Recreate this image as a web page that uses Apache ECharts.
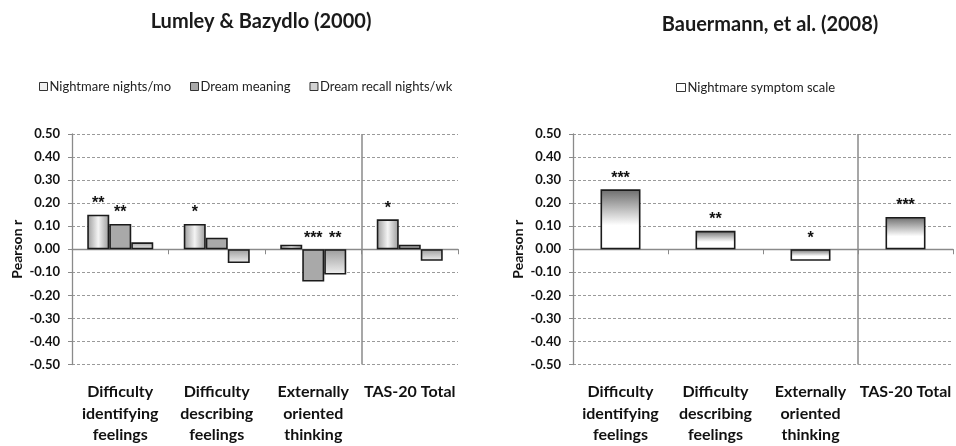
<!DOCTYPE html>
<html>
<head>
<meta charset="utf-8">
<script src="https://cdn.jsdelivr.net/npm/echarts@6/dist/echarts.min.js"></script>
<style>
  html, body { margin: 0; padding: 0; background: #fff; }
  #chart { width: 956px; height: 446px; }
</style>
</head>
<body>
<div id="chart"></div>
<script>
// TAS-20 subscales shown on both panels
const categories = [
  'Difficulty\nidentifying\nfeelings',
  'Difficulty\ndescribing\nfeelings',
  'Externally\noriented\nthinking',
  'TAS-20 Total'
];

// Lumley & Bazydlo (2000)
const lumleyNames = ['Nightmare nights/mo', 'Dream meaning', 'Dream recall nights/wk'];
const nightmareNights = [0.15, 0.11, 0.02, 0.13];
const dreamMeaning = [0.11, 0.05, -0.14, 0.02];
const dreamRecall = [0.03, -0.06, -0.11, -0.05];
const nightmareNightsSig = ['**', '*', '', '*'];
const dreamMeaningSig = ['**', '', '***', ''];
const dreamRecallSig = ['', '', '**', ''];

// Bauermann, et al. (2008)
const bauermannName = 'Nightmare symptom scale';
const nightmareScale = [0.26, 0.08, -0.05, 0.14];
const nightmareScaleSig = ['***', '**', '*', '***'];

// y axis range
const yMin = -0.5, yMax = 0.5, yStep = 0.1;
// the total score sits after the three subscales
const subscaleCount = 3;

const FONT = 'Lato';
const grad = echarts.graphic.LinearGradient;

const fills = {
  nightmare: new grad(0, 0, 1, 0, [
    { offset: 0, color: '#9a9a9a' },
    { offset: 0.5, color: '#f4f4f4' },
    { offset: 1, color: '#9a9a9a' }
  ]),
  meaning: '#a9a9a9',
  recall: new grad(0, 0, 0, 1, [
    { offset: 0, color: '#9c9c9c' },
    { offset: 1, color: '#f0f0f0' }
  ]),
  scale: new grad(0, 0, 0, 1, [
    { offset: 0, color: '#6c6c6c' },
    { offset: 0.6, color: '#ffffff' },
    { offset: 1, color: '#ffffff' }
  ])
};

function fmt(v) {
  return Math.abs(v) < 1e-9 ? '0.00' : v.toFixed(2);
}

function yAxisFor(gridIndex) {
  return {
    type: 'value', gridIndex: gridIndex,
    min: yMin, max: yMax, interval: yStep,
    name: 'Pearson r', nameLocation: 'middle', nameGap: 48, nameRotate: 90,
    nameTextStyle: { fontFamily: FONT, fontWeight: 'bold', fontSize: 14, color: '#111' },
    axisLine: { show: true, lineStyle: { color: '#8a8a8a', width: 1.3 } },
    axisTick: { show: true, length: 4, lineStyle: { color: '#8a8a8a' } },
    axisLabel: { formatter: fmt, margin: 12, fontFamily: FONT, fontWeight: 'bold', fontSize: 13, color: '#111' },
    splitLine: { show: true, lineStyle: { color: '#9a9a9a', width: 1, type: [3, 2] } }
  };
}

function zeroAxisFor(gridIndex) {
  return {
    type: 'category', gridIndex: gridIndex, data: categories,
    axisLine: { onZero: true, lineStyle: { color: '#8a8a8a', width: 1.3 } },
    axisTick: { show: true, length: 5, inside: false, lineStyle: { color: '#8a8a8a' } },
    axisLabel: { show: false },
    splitLine: { show: false }
  };
}

function labelAxisFor(gridIndex) {
  return {
    type: 'category', gridIndex: gridIndex, data: categories, position: 'bottom',
    axisLine: { show: false, onZero: false },
    axisTick: { show: false },
    axisLabel: {
      interval: 0, margin: 17, fontFamily: FONT, fontWeight: 'bold',
      fontSize: 16, lineHeight: 21.5, color: '#111', align: 'center'
    },
    splitLine: { show: false }
  };
}

// hidden band-count axis whose one interior split line divides subscales from the total
function dividerAxisFor(gridIndex) {
  return {
    type: 'value', gridIndex: gridIndex, position: 'top',
    min: 0, max: categories.length, interval: subscaleCount,
    axisLine: { show: false }, axisTick: { show: false }, axisLabel: { show: false },
    splitLine: {
      show: true, showMinLine: false, showMaxLine: false,
      lineStyle: { color: '#8a8a8a', width: 1.5, type: 'solid' }
    }
  };
}

function sigLabel(sig) {
  return {
    show: true, position: 'top', distance: 3,
    fontFamily: 'Liberation Sans', fontWeight: 'bold', fontSize: 16, color: '#111',
    formatter: function (p) { return sig[p.dataIndex]; }
  };
}

const outline = { borderColor: '#1b1b1b', borderWidth: 1.6 };

const option = {
  backgroundColor: '#ffffff',
  animation: false,
  title: [
    { text: 'Lumley & Bazydlo (2000)', left: 256, top: 7, textAlign: 'center',
      textStyle: { fontFamily: FONT, fontWeight: 'bold', fontSize: 20, color: '#1a1a1a' } },
    { text: 'Bauermann, et al. (2008)', left: 765, top: 10, textAlign: 'center',
      textStyle: { fontFamily: FONT, fontWeight: 'bold', fontSize: 20, color: '#1a1a1a' } }
  ],
  legend: [
    {
      left: 34, top: 75, itemGap: 19, itemWidth: 8, itemHeight: 8, icon: 'rect',
      textStyle: { fontFamily: FONT, fontSize: 13, color: '#222', padding: [0, 0, 0, -3] },
      data: [
        { name: lumleyNames[0], itemStyle: { color: '#f0f0f0', borderColor: '#333', borderWidth: 1 } },
        { name: lumleyNames[1], itemStyle: { color: '#a9a9a9', borderColor: '#333', borderWidth: 1 } },
        { name: lumleyNames[2], itemStyle: { color: '#d2d2d2', borderColor: '#333', borderWidth: 1 } }
      ]
    },
    {
      left: 671, top: 76, itemWidth: 9, itemHeight: 8, icon: 'rect',
      textStyle: { fontFamily: FONT, fontSize: 13, color: '#222', padding: [0, 0, 0, -3] },
      data: [
        { name: bauermannName, itemStyle: { color: '#ffffff', borderColor: '#333', borderWidth: 1 } }
      ]
    }
  ],
  grid: [
    { left: 72, right: 498, top: 134, bottom: 78 },
    { left: 573, right: 3, top: 134, bottom: 78 }
  ],
  xAxis: [
    zeroAxisFor(0), labelAxisFor(0), dividerAxisFor(0),
    zeroAxisFor(1), labelAxisFor(1), dividerAxisFor(1)
  ],
  yAxis: [yAxisFor(0), yAxisFor(1)],
  series: [
    { name: lumleyNames[0], type: 'bar', xAxisIndex: 0, yAxisIndex: 0,
      data: nightmareNights, barWidth: 22, barGap: '0%',
      itemStyle: Object.assign({ color: fills.nightmare }, outline),
      label: sigLabel(nightmareNightsSig) },
    { name: lumleyNames[1], type: 'bar', xAxisIndex: 0, yAxisIndex: 0,
      data: dreamMeaning, barWidth: 22, barGap: '0%',
      itemStyle: Object.assign({ color: fills.meaning }, outline),
      label: sigLabel(dreamMeaningSig) },
    { name: lumleyNames[2], type: 'bar', xAxisIndex: 0, yAxisIndex: 0,
      data: dreamRecall, barWidth: 22, barGap: '0%',
      itemStyle: Object.assign({ color: fills.recall }, outline),
      label: sigLabel(dreamRecallSig) },
    { name: bauermannName, type: 'bar', xAxisIndex: 3, yAxisIndex: 1,
      data: nightmareScale, barWidth: 40,
      itemStyle: Object.assign({ color: fills.scale }, outline),
      label: sigLabel(nightmareScaleSig) }
  ]
};

const chart = echarts.init(document.getElementById('chart'), null, { renderer: 'canvas' });
chart.setOption(option);
</script>
</body>
</html>
